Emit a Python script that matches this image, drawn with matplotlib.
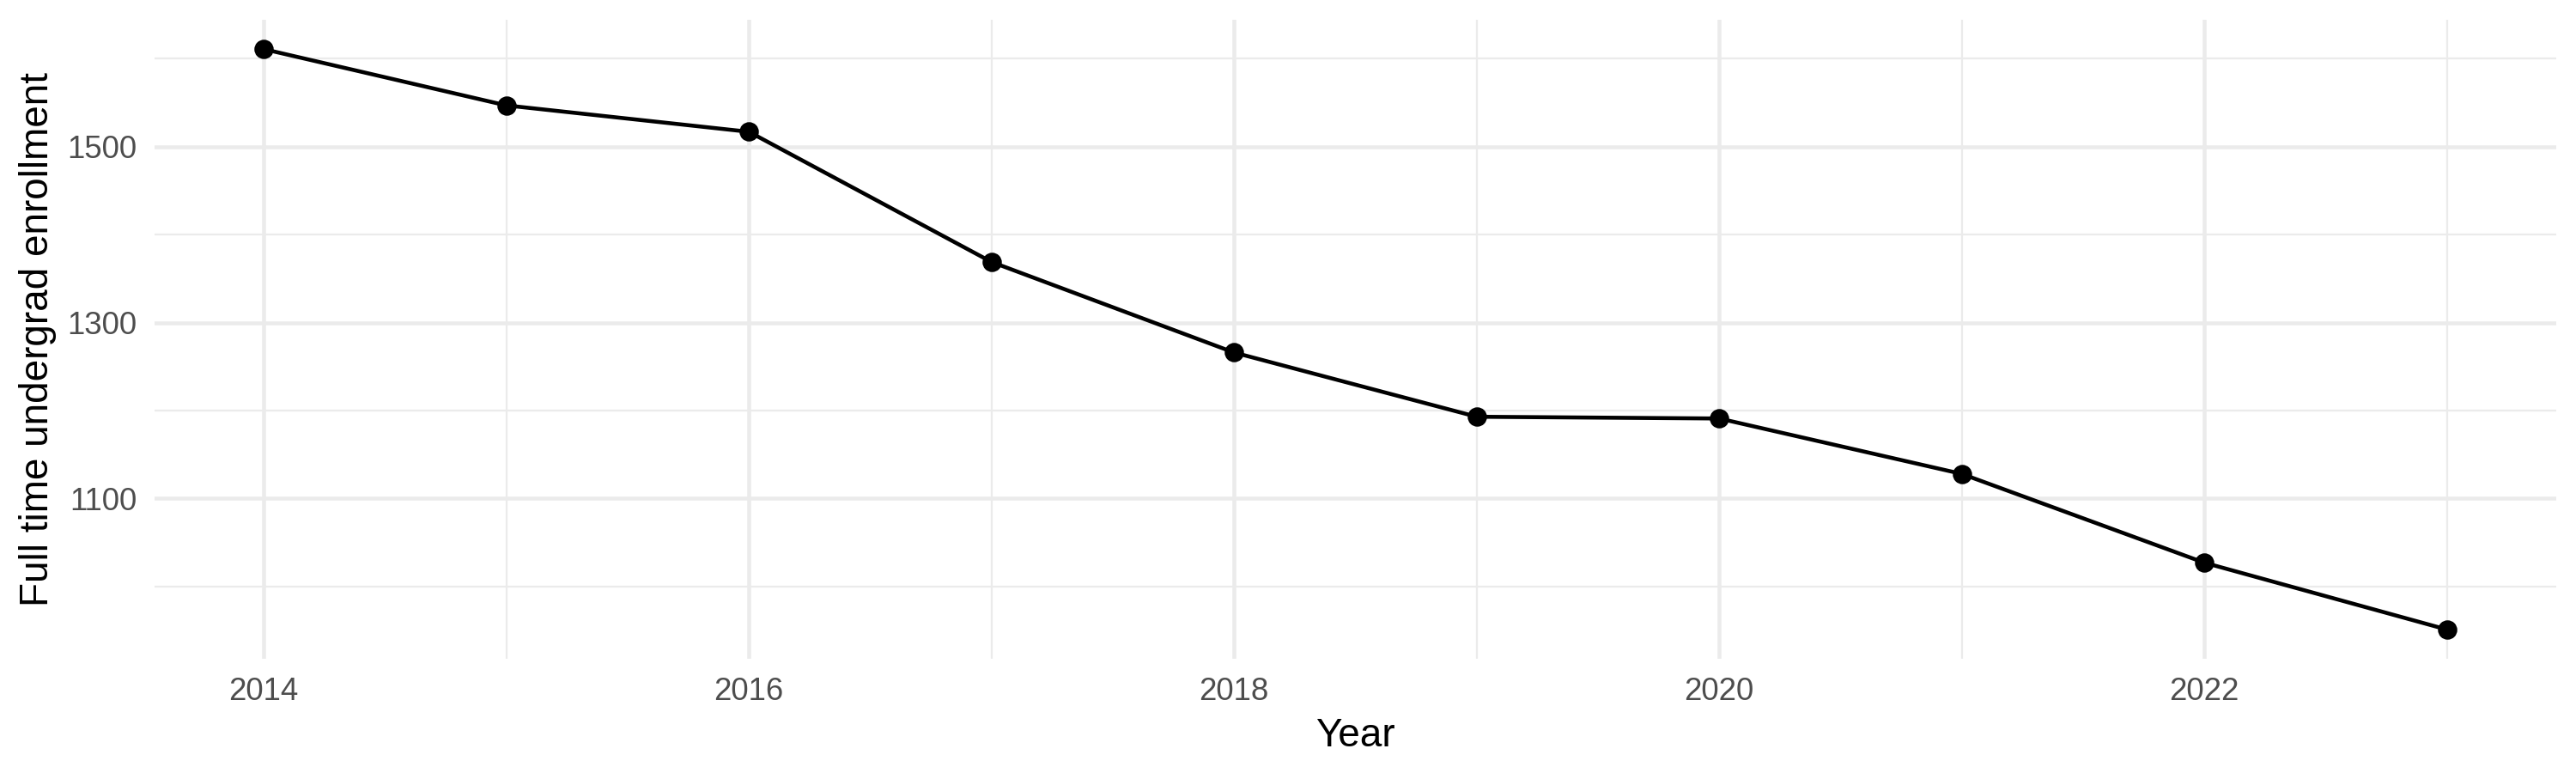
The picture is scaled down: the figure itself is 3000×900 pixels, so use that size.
import matplotlib
matplotlib.use("Agg")
import matplotlib.pyplot as plt
from matplotlib.ticker import MultipleLocator


YEARS = [2014, 2015, 2016, 2017, 2018, 2019, 2020, 2021, 2022, 2023]

ENROLLMENT = [1611, 1547, 1517, 1369, 1266, 1193, 1191, 1128, 1027, 951]

X_MAJOR = [2014, 2016, 2018, 2020, 2022]
Y_MAJOR = [1100, 1300, 1500]

GRID = "#EBEBEB"
TICK_TEXT = "#4D4D4D"


def make_chart():
    """
    Line chart of full time undergrad enrollment per year.
    """

    plt.rcParams["font.family"] = ["Liberation Sans", "DejaVu Sans"]

    fig = plt.figure(figsize=(10, 3), dpi=300)
    ax = fig.add_axes([0.06, 0.148, 0.9323, 0.826])

    ax.plot(
        YEARS,
        ENROLLMENT,
        color="black",
        linewidth=1.1,
        marker="o",
        markersize=4.4,
        zorder=3,
    )

    # ggplot style expansion of 5% on both axes
    x_pad = (max(YEARS) - min(YEARS)) * 0.05
    y_pad = (max(ENROLLMENT) - min(ENROLLMENT)) * 0.05
    ax.set_xlim(min(YEARS) - x_pad, max(YEARS) + x_pad)
    ax.set_ylim(min(ENROLLMENT) - y_pad, max(ENROLLMENT) + y_pad)

    ax.set_xticks(X_MAJOR)
    ax.set_yticks(Y_MAJOR)
    ax.xaxis.set_minor_locator(MultipleLocator(1))
    ax.yaxis.set_minor_locator(MultipleLocator(100))

    ax.grid(which="major", color=GRID, linewidth=1.1, zorder=0)
    ax.grid(which="minor", color=GRID, linewidth=0.55, zorder=0)
    ax.set_axisbelow(True)

    for spine in ax.spines.values():
        spine.set_visible(False)

    ax.tick_params(
        which="both",
        length=0,
        labelsize=8.8,
        labelcolor=TICK_TEXT,
        pad=5,
    )

    ax.set_xlabel("Year", fontsize=11, labelpad=3)
    ax.set_ylabel("Full time undergrad enrollment", fontsize=11, labelpad=3)

    fig.savefig("out.png", dpi=300, facecolor="white")
    plt.close(fig)


if __name__ == "__main__":

    make_chart()
